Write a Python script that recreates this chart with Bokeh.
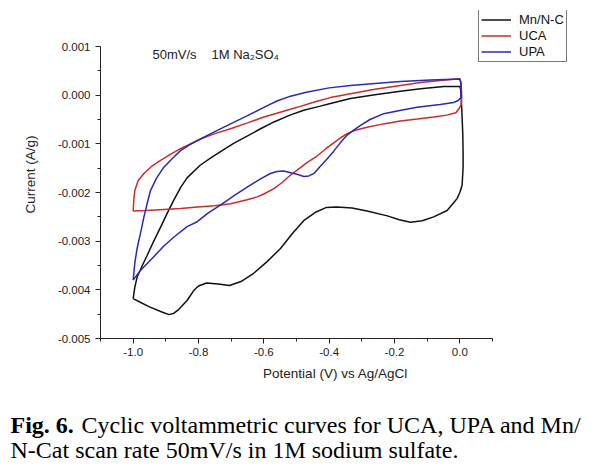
from bokeh.plotting import figure
from bokeh.models import Range1d, FixedTicker, NumeralTickFormatter, Label, Legend, LegendItem
from bokeh.embed import file_html
from bokeh.resources import INLINE

# ---------------- data (potential V vs Ag/AgCl, current A/g) ----------------
mnc_v = [-1.000, -0.995, -0.988, -0.972, -0.957, -0.937, -0.916, -0.896, -0.876, -0.855,
         -0.835, -0.795, -0.760, -0.723, -0.690, -0.651, -0.610, -0.569, -0.520, -0.478,
         -0.430, -0.396, -0.335, -0.260, -0.182, -0.120, -0.049, 0.000,
         0.003, 0.006, 0.009, 0.010, 0.010, 0.007, 0.000, -0.008, -0.020,
         -0.039, -0.080, -0.115, -0.151, -0.185, -0.222, -0.284, -0.330, -0.376, -0.410,
         -0.440, -0.478, -0.510, -0.549, -0.590, -0.631, -0.670, -0.705, -0.740, -0.775,
         -0.800, -0.814, -0.835, -0.860, -0.875, -0.890, -0.910, -0.950, -0.980, -1.000]
mnc_i = [-4.18, -3.95, -3.74, -3.50, -3.29, -3.00, -2.71, -2.43, -2.16, -1.90,
         -1.70, -1.44, -1.28, -1.12, -0.98, -0.84, -0.69, -0.55, -0.41, -0.31,
         -0.23, -0.17, -0.07, 0.01, 0.08, 0.13, 0.18, 0.18,
         0.10, -0.30, -0.79, -1.20, -1.48, -1.85, -2.00, -2.12, -2.22,
         -2.37, -2.50, -2.58, -2.61, -2.56, -2.48, -2.38, -2.32, -2.30, -2.31,
         -2.40, -2.58, -2.82, -3.15, -3.42, -3.66, -3.83, -3.91, -3.88, -3.86,
         -3.92, -4.01, -4.22, -4.40, -4.48, -4.51, -4.46, -4.35, -4.25, -4.18]

uca_v = [-1.000, -0.998, -0.995, -0.985, -0.967, -0.945, -0.916, -0.885, -0.855, -0.825,
         -0.794, -0.750, -0.702, -0.650, -0.600, -0.550, -0.498, -0.440, -0.396, -0.335,
         -0.260, -0.182, -0.120, -0.060, 0.000,
         0.004, 0.006, 0.004, -0.003, -0.012, -0.040, -0.080, -0.130, -0.182, -0.234,
         -0.284, -0.320, -0.345, -0.366, -0.386, -0.410, -0.437, -0.467, -0.490, -0.518,
         -0.545, -0.569, -0.600, -0.620, -0.651, -0.702, -0.750, -0.804, -0.855, -0.906,
         -0.960, -1.000]
uca_i = [-2.38, -2.15, -1.96, -1.76, -1.61, -1.47, -1.34, -1.21, -1.10, -1.00,
         -0.90, -0.79, -0.69, -0.57, -0.45, -0.35, -0.25, -0.13, -0.05, 0.03,
         0.12, 0.20, 0.26, 0.30, 0.34,
         0.25, -0.05, -0.20, -0.28, -0.36, -0.41, -0.45, -0.49, -0.53, -0.59,
         -0.66, -0.72, -0.79, -0.88, -0.98, -1.10, -1.25, -1.38, -1.50, -1.64,
         -1.80, -1.92, -2.03, -2.09, -2.15, -2.23, -2.27, -2.30, -2.33, -2.35,
         -2.37, -2.38]

upa_v = [-1.000, -0.995, -0.988, -0.978, -0.967, -0.957, -0.947, -0.928, -0.906, -0.880,
         -0.855, -0.825, -0.794, -0.750, -0.702, -0.650, -0.600, -0.560, -0.518, -0.470,
         -0.400, -0.335, -0.260, -0.182, -0.090, 0.000,
         0.003, 0.004, 0.003, -0.005, -0.019, -0.060, -0.131, -0.180, -0.233, -0.275,
         -0.304, -0.325, -0.345, -0.366, -0.386, -0.405, -0.427, -0.445, -0.462, -0.478,
         -0.495, -0.515, -0.539, -0.560, -0.580, -0.610, -0.651, -0.690, -0.733, -0.770,
         -0.804, -0.835, -0.876, -0.906, -0.927, -0.957, -0.980, -1.000]
upa_i = [-3.80, -3.45, -3.15, -2.85, -2.50, -2.22, -1.96, -1.70, -1.48, -1.30,
         -1.14, -1.01, -0.90, -0.75, -0.59, -0.42, -0.25, -0.12, -0.02, 0.06,
         0.15, 0.20, 0.24, 0.28, 0.31, 0.33,
         0.25, 0.05, -0.05, -0.11, -0.15, -0.19, -0.25, -0.31, -0.38, -0.50,
         -0.62, -0.72, -0.82, -0.98, -1.15, -1.30, -1.46, -1.60, -1.66, -1.67,
         -1.63, -1.60, -1.56, -1.57, -1.61, -1.72, -1.89, -2.06, -2.26, -2.42,
         -2.60, -2.70, -2.92, -3.10, -3.25, -3.46, -3.62, -3.80]

series_names = ["Mn/N-C", "UCA", "UPA"]
series_colors = ["#111111", "#c82c2c", "#2a2ab4"]

x_axis_bounds = (-1.1, 0.1)
y_axis_bounds = (-0.005, 0.001)
x_major = [-1.0, -0.8, -0.6, -0.4, -0.2, 0.0]
x_minor = [-1.1, -0.9, -0.7, -0.5, -0.3, -0.1, 0.1]
y_major = [0.001, 0.0, -0.001, -0.002, -0.003, -0.004, -0.005]
y_minor = [0.0005, -0.0005, -0.0015, -0.0025, -0.0035, -0.0045]

caption_bold = "Fig. 6."
caption_line1 = "Cyclic voltammetric curves for UCA, UPA and Mn/"
caption_line2 = "N-Cat scan rate 50mV/s in 1M sodium sulfate."

SANS = "Liberation Sans"
SERIF = "Liberation Serif"

# ---------------- figure ----------------
# the frame is extended above/right of the axes so the legend box fits inside it;
# the axes themselves are limited to their bounds, like the original.
p = figure(width=596, height=466, output_backend="svg", toolbar_location=None,
           x_range=Range1d(-1.1, 0.3388), y_range=Range1d(-0.005, 0.00174),
           min_border_left=100, min_border_right=26, min_border_top=10,
           min_border_bottom=128, background_fill_color="white",
           border_fill_color="white")
p.outline_line_color = None
p.xgrid.visible = False
p.ygrid.visible = False

for ax in (p.xaxis[0], p.yaxis[0]):
    ax.axis_line_color = "#222222"
    ax.axis_line_width = 1
    ax.major_tick_line_color = "#222222"
    ax.minor_tick_line_color = "#222222"
    ax.major_tick_in = 0
    ax.major_tick_out = 5
    ax.minor_tick_in = 0
    ax.minor_tick_out = 3
    ax.major_label_text_font = SANS
    ax.major_label_text_font_size = "11.5px"
    ax.major_label_text_color = "#222222"
    ax.axis_label_text_font = SANS
    ax.axis_label_text_font_size = "13.5px"
    ax.axis_label_text_font_style = "normal"
    ax.axis_label_text_color = "#222222"

p.xaxis.bounds = x_axis_bounds
p.yaxis.bounds = y_axis_bounds
p.xaxis.ticker = FixedTicker(ticks=x_major, minor_ticks=x_minor)
p.yaxis.ticker = FixedTicker(ticks=y_major, minor_ticks=y_minor)
p.xaxis.formatter = NumeralTickFormatter(format="0.0")
p.yaxis.formatter = NumeralTickFormatter(format="0.000")
p.xaxis.major_label_standoff = 4
p.yaxis.major_label_standoff = 5
p.xaxis.axis_label = "Potential (V) vs Ag/AgCl"
p.yaxis.axis_label = "Current (A/g)"
p.xaxis.axis_label_standoff = 7
p.yaxis.axis_label_standoff = 17

curves = [(mnc_v, mnc_i), (uca_v, uca_i), (upa_v, upa_i)]
items = []
for (vv, ii), name, col in zip(curves, series_names, series_colors):
    r = p.line(list(vv), [c * 1e-3 for c in ii], line_color=col, line_width=1.5)
    items.append(LegendItem(label=name, renderers=[r]))

legend = Legend(items=items, location=(378, 276), orientation="vertical",
                label_text_font=SANS, label_text_font_size="13px",
                label_text_color="#111111", label_standoff=8,
                glyph_width=30, glyph_height=15, label_height=15,
                spacing=1, padding=2, margin=0,
                border_line_color="#7a7a7a", border_line_width=1, border_line_alpha=1.0,
                background_fill_color="white", background_fill_alpha=1.0)
p.add_layout(legend)

# annotation inside the plot
p.add_layout(Label(x=52, y=284, x_units="screen", y_units="screen", text="50mV/s",
                   text_font=SANS, text_font_size="13px", text_color="#222222",
                   text_baseline="middle", text_align="left"))
p.add_layout(Label(x=111, y=284, x_units="screen", y_units="screen", text="1M Na\u2082SO\u2084",
                   text_font=SANS, text_font_size="13px", text_color="#222222",
                   text_baseline="middle", text_align="left"))

# caption (placed in side panels so that it is not clipped by the frame)
p.add_layout(Label(x=-19, y=-15, x_units="screen", y_units="screen", text=caption_line1,
                   text_font=SERIF, text_font_size="24px",
                   text_color="black", text_baseline="alphabetic", text_align="left"), "below")
p.add_layout(Label(x=-90, y=-14, x_units="screen", y_units="screen", text=caption_line2,
                   text_font=SERIF, text_font_size="24px",
                   text_color="black", text_baseline="alphabetic", text_align="left"), "below")
p.add_layout(Label(x=-90, y=37, x_units="screen", y_units="screen", text=caption_bold,
                   text_font=SERIF, text_font_size="24px", text_font_style="bold",
                   text_color="black", text_baseline="alphabetic", text_align="left"), "below")

open("out.html", "w").write(file_html(p, INLINE))
